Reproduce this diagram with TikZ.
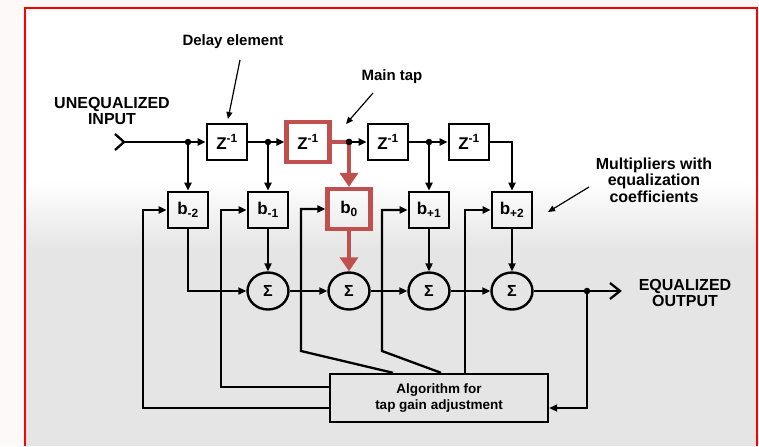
\documentclass[tikz,border=0pt]{standalone}
\usepackage{fontspec}
\setmainfont{Liberation Sans}
\usetikzlibrary{arrows.meta,shapes.geometric,calc}
\definecolor{tapred}{RGB}{192,80,77}
\definecolor{bggray}{RGB}{230,229,230}
\definecolor{outbg}{RGB}{253,249,249}
\begin{document}
\begin{tikzpicture}[x=1pt,y=-1pt,
  blk/.style={draw=black, line width=2.8pt, minimum width=40pt, minimum height=36pt, inner sep=0pt, font=\bfseries\fontsize{17}{17}\selectfont},
  redblk/.style={blk, draw=tapred, line width=4.2pt, minimum width=43pt, minimum height=40pt},
  sumnode/.style={draw, ellipse, line width=2.4pt, minimum width=41pt, minimum height=37pt, inner sep=0pt, font=\bfseries\fontsize{16}{16}\selectfont},
  wire/.style={line width=2.3pt},
  arr/.style={wire, -{Triangle[length=8pt,width=7pt]}},
  redarr/.style={line width=4.2pt, draw=tapred, -{Triangle[length=14pt,width=18pt]}},
  lbl/.style={font=\bfseries\fontsize{16}{16.5}\selectfont, align=center, inner sep=0pt},
  pointer/.style={line width=1.2pt, -{Triangle[length=7pt,width=6pt]}},
  jdot/.style={circle, fill, inner sep=0pt, minimum size=6.5pt},
  algobox/.style={draw, line width=2.4pt, minimum width=218pt, minimum height=48pt, align=center, inner sep=0pt, font=\bfseries\fontsize{13.5}{15.5}\selectfont}
]
% background
\fill[outbg] (0,0) rectangle (759,446);
\fill[white] (25,8) rectangle (757,180);
\shade[top color=white,bottom color=bggray] (25,180) rectangle (757,250);
\fill[bggray] (25,250) rectangle (757,446);
\draw[red, line width=1.8pt] (25,446) -- (25,8) -- (757,8) -- (757,446);
\useasboundingbox (0,0) rectangle (759,446);

% delay line
\node[blk] (z1) at (227,142) {Z\textsuperscript{-1}};
\node[redblk] (z2) at (308,142) {Z\textsuperscript{-1}};
\node[blk] (z3) at (388,142) {Z\textsuperscript{-1}};
\node[blk] (z4) at (469,142) {Z\textsuperscript{-1}};

% multipliers
\node[blk] (bm2) at (188,210) {b\textsubscript{-2}};
\node[blk] (bm1) at (268,210) {b\textsubscript{-1}};
\node[redblk] (b0) at (349,209) {b\textsubscript{0}};
\node[blk] (bp1) at (429,210) {b\textsubscript{+1}};
\node[blk] (bp2) at (512,210) {b\textsubscript{+2}};

% summers
\node[sumnode] (s1) at (268,291) {Σ};
\node[sumnode] (s2) at (349,291) {Σ};
\node[sumnode] (s3) at (429,291) {Σ};
\node[sumnode] (s4) at (512,291) {Σ};

% algorithm box
\node[algobox] (algo) at (439,398) {Algorithm for\\tap gain adjustment};

% junctions
\node[jdot] (d1) at (188,142) {};
\node[jdot] (d2) at (268,142) {};
\node[jdot] (d3) at (349,142) {};
\node[jdot] (d4) at (429,142) {};
\node[jdot] (d5) at (587,291) {};

% input
\coordinate (in) at (124,142);
\draw[wire] (115,134) -- (in) -- (115,150);
\draw[arr] (in) -- (z1.west);
\draw[arr] (z1.east) -- (z2.west);
\draw[redarr] (z2.east) -| (b0.north);
\node[jdot] at (d3) {};
\draw[arr] (d3) -- (z3.west);
\draw[arr] (z3.east) -- (z4.west);
\draw[arr] (z4.east) -| (bp2.north);

% taps
\draw[arr] (d1) -- (bm2.north);
\draw[arr] (d2) -- (bm1.north);
\draw[arr] (d4) -- (bp1.north);

% multipliers to summers
\draw[arr] (bm2.south) |- (s1.west);
\draw[arr] (bm1.south) -- (s1.north);
\draw[redarr] (b0.south) -- (s2.north);
\draw[arr] (bp1.south) -- (s3.north);
\draw[arr] (bp2.south) -- (s4.north);
\draw[arr] (s1.east) -- (s2.west);
\draw[arr] (s2.east) -- (s3.west);
\draw[arr] (s3.east) -- (s4.west);

% output
\coordinate (out) at (620,291);
\draw[wire] (s4.east) -- (out);
\draw[wire] (610,283) -- (out) -- (610,299);
\coordinate (fo) at (587,408);
\draw[arr] (d5) -- (fo) -- (algo.east |- fo);

% feedback to coefficients
\coordinate (fa) at (143,408);
\draw[arr] (algo.west |- fa) -- (fa) |- (bm2.west);
\coordinate (fb) at (221,387);
\draw[arr] (algo.west |- fb) -- (fb) |- (bm1.west);
\coordinate (fc) at (301,351);
\coordinate (fct) at (393,374);
\draw[arr] (algo.north -| fct) -- (fc) |- (b0.west);
\coordinate (fd) at (382,351);
\coordinate (fdt) at (441,374);
\draw[arr] (algo.north -| fdt) -- (fd) |- (bp1.west);
\coordinate (fe) at (465,210);
\draw[arr] (algo.north -| fe) -- (fe) -- (bp2.west);

% labels
\node[lbl, font=\bfseries\fontsize{15}{15}\selectfont] (ldelay) at (233,42) {Delay element};
\coordinate (ldelayA) at (240,60);
\draw[pointer] (ldelayA) -- (228,119);
\node[lbl, font=\bfseries\fontsize{15}{15}\selectfont] (lmain) at (392,77) {Main tap};
\coordinate (lmainA) at (373,93);
\draw[pointer] (lmainA) -- (346,124);
\node[lbl] (lin) at (112,111) {UNEQUALIZED\\INPUT};
\node[lbl] (lmult) at (654,180) {Multipliers with\\equalization\\coefficients};
\coordinate (lmultA) at (589,187);
\draw[pointer] (lmultA) -- (548,212);
\node[lbl] (lout) at (685,293) {EQUALIZED\\OUTPUT};
\end{tikzpicture}
\end{document}
